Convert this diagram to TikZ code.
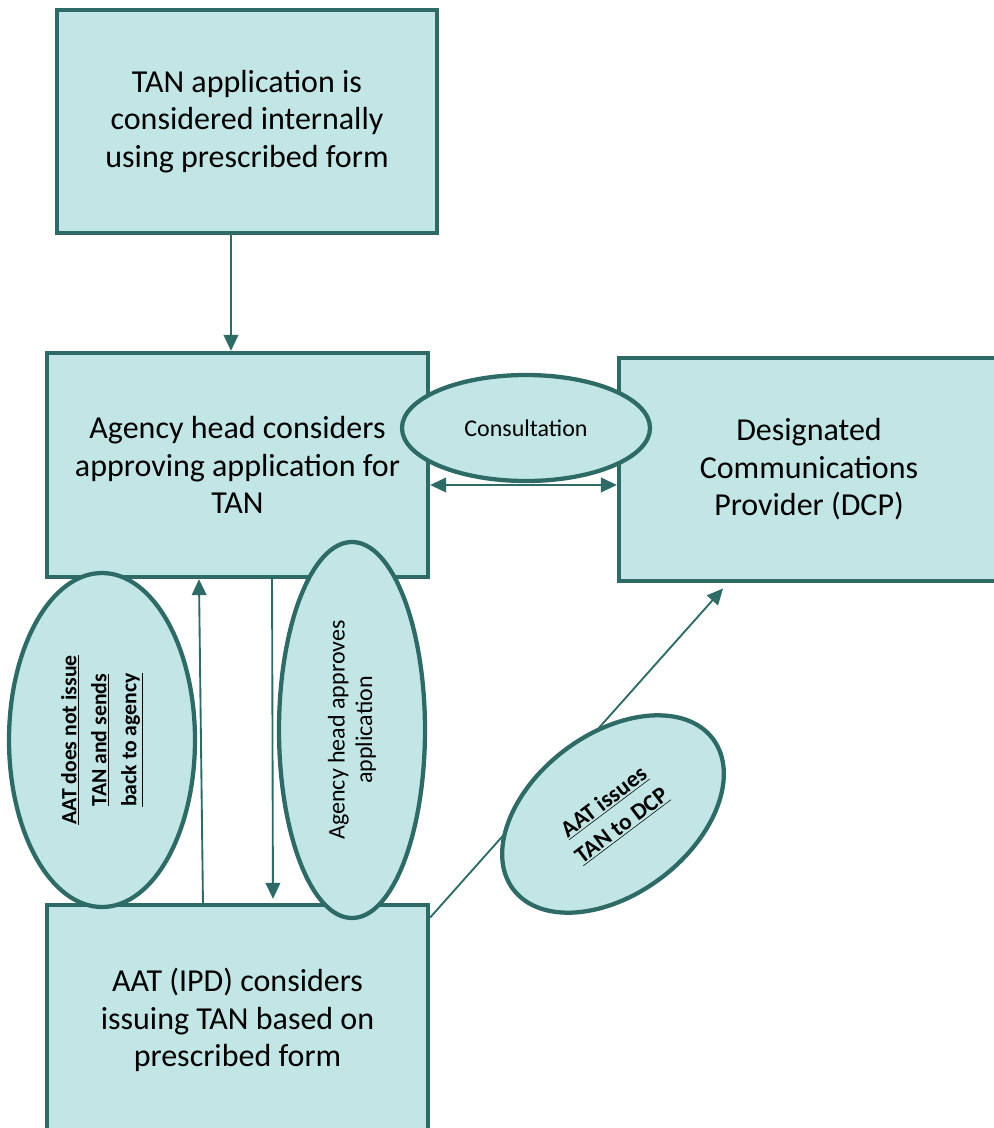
\documentclass[tikz,border=0pt]{standalone}
\usepackage{fontspec}
\setmainfont{Carlito}
\usetikzlibrary{arrows.meta,shapes.geometric}
\definecolor{teal}{RGB}{46,106,102}
\definecolor{tfill}{RGB}{194,230,229}
\tikzset{
  box/.style={draw=teal, fill=tfill, line width=3.2pt, rectangle, inner sep=0pt,
    align=center, font=\fontsize{24}{28.2}\selectfont},
  oval/.style={draw=teal, fill=tfill, line width=3.2pt, ellipse, inner sep=0pt, align=center},
  arr/.style={draw=teal, line width=1.4pt, -{Triangle[length=12pt,width=11pt]}},
  darr/.style={draw=teal, line width=1.4pt, {Triangle[length=12pt,width=11pt]}-{Triangle[length=12pt,width=11pt]}}
}
\begin{document}
\begin{tikzpicture}[x=0.75pt,y=-0.75pt]
\useasboundingbox (0,0) rectangle (993,1128);
% boxes
\node[box, minimum width=285pt, minimum height=167.25pt] (b1) at (247,121.5)
  {TAN application is\\considered internally\\using prescribed form};
\node[box, minimum width=285.75pt, minimum height=168pt] (b2) at (237.5,465)
  {Agency head considers\\approving application for\\TAN};
\node[box, minimum width=285pt, minimum height=167.25pt] (b3) at (809,469.5)
  {Designated\\Communications\\Provider (DCP)};
\node[box, minimum width=285.75pt, minimum height=172.5pt] (b4) at (237.5,1020)
  {AAT (IPD) considers\\issuing TAN based on\\prescribed form};
% connectors
\draw[arr] ([xshift=-12pt]b1.south) -- ([xshift=-4.9pt]b2.north);
\draw[darr] ([yshift=-15pt]b2.east) -- ([yshift=-11.6pt]b3.west);
\draw[arr] ([xshift=-25.9pt]b4.north) -- ([xshift=-28.9pt]b2.south);
\draw[arr] ([xshift=25.9pt]b2.south) -- ([xshift=26.6pt,yshift=3pt]b4.north);
\draw[arr] ([yshift=-11pt]b4.north east) -- ([xshift=-64.5pt,yshift=-4pt]b3.south);
% ellipses
\node[oval, minimum width=186pt, minimum height=79.5pt, font=\fontsize{18}{21}\selectfont] (e1) at (526,428) {Consultation};
\node[oval, rotate=90, minimum width=250.5pt, minimum height=139.5pt,
  font=\bfseries\fontsize{16.3}{22.5}\selectfont] (e2) at (102,740)
  {\underline{AAT does not issue}\\\underline{TAN and sends}\\\underline{back to agency}};
\node[oval, rotate=90, minimum width=282pt, minimum height=109.5pt,
  font=\fontsize{18}{20.5}\selectfont] (e3) at (352,730)
  {Agency head approves\\application};
\node[oval, rotate=37, minimum width=187.5pt, minimum height=120pt,
  font=\bfseries\fontsize{17.5}{22}\selectfont] (e4) at (613,814)
  {\underline{AAT issues}\\\underline{TAN to DCP}};
\end{tikzpicture}
\end{document}
